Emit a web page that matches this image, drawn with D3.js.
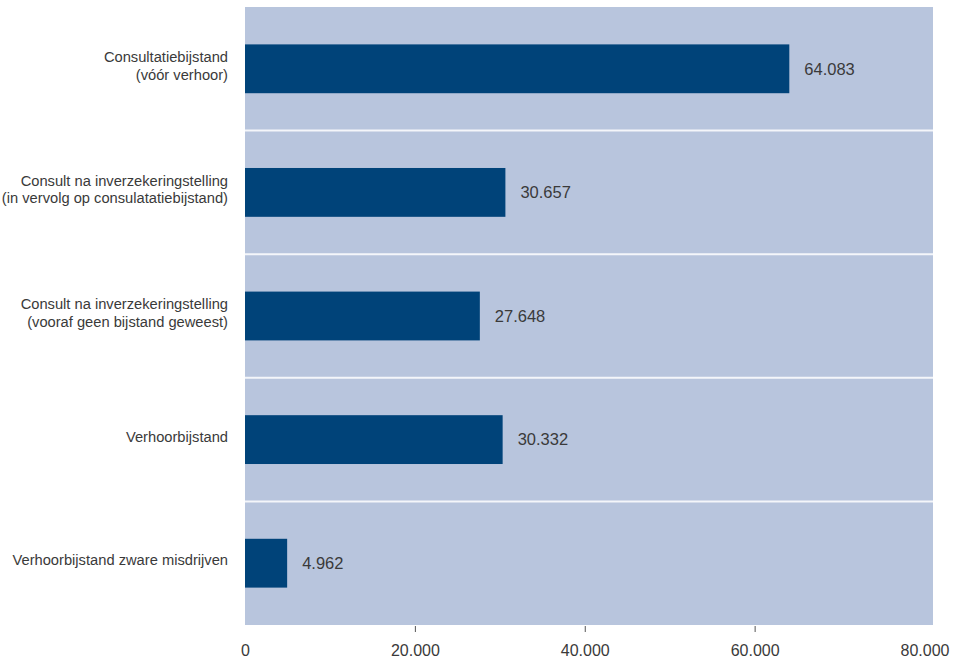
<!DOCTYPE html>
<html>
<head>
<meta charset="utf-8">
<script src="https://cdn.jsdelivr.net/npm/d3@7"></script>
<style>
  body { margin: 0; background: #ffffff; }
  svg { display: block; }
</style>
</head>
<body>
<svg id="chart" width="954" height="663"></svg>
<script>
const categories = [
  ["Consultatiebijstand", "(vóór verhoor)"],
  ["Consult na inverzekeringstelling", "(in vervolg op consulatatiebijstand)"],
  ["Consult na inverzekeringstelling", "(vooraf geen bijstand geweest)"],
  ["Verhoorbijstand"],
  ["Verhoorbijstand zware misdrijven"]
];
const values = [64083, 30657, 27648, 30332, 4962];
const valueLabels = ["64.083", "30.657", "27.648", "30.332", "4.962"];
const tickValues = [0, 20000, 40000, 60000, 80000];
const tickLabels = ["0", "20.000", "40.000", "60.000", "80.000"];

const svg = d3.select("#chart");
const margin = { left: 245, right: 21, top: 7, bottom: 38 };
const W = 954, H = 663;
const innerW = W - margin.left - margin.right;
const innerH = H - margin.top - margin.bottom;

const x = d3.scaleLinear().domain([0, 81000]).range([0, innerW]);
const idx = d3.range(categories.length);
const y = d3.scaleBand().domain(idx).range([0, innerH]).paddingInner(0).paddingOuter(0);

const g = svg.append("g").attr("transform", `translate(${margin.left},${margin.top})`);

// background
g.append("rect").attr("x", 0).attr("y", 0).attr("width", innerW).attr("height", innerH)
  .attr("fill", "#b8c5dd");

// separators
g.selectAll("line.sep").data(idx.slice(1)).join("line")
  .attr("class", "sep")
  .attr("x1", 0).attr("x2", innerW)
  .attr("y1", d => y(d)).attr("y2", d => y(d))
  .attr("stroke", "#f4f6fa").attr("stroke-width", 2);

const barH = y.bandwidth() * 0.395;
g.selectAll("rect.bar").data(idx).join("rect")
  .attr("class", "bar")
  .attr("x", 0)
  .attr("y", d => y(d) + y.bandwidth() / 2 - barH / 2)
  .attr("width", d => x(values[d]))
  .attr("height", barH)
  .attr("fill", "#004379");

// value labels
g.selectAll("text.val").data(idx).join("text")
  .attr("class", "val")
  .attr("x", d => x(values[d]) + 15)
  .attr("y", d => y(d) + y.bandwidth() / 2)
  .attr("dy", "0.35em")
  .attr("font-family", "'Liberation Sans', Arial, sans-serif")
  .attr("font-size", "16.5px")
  .attr("fill", "#3a3a3a")
  .text(d => valueLabels[d]);

// category labels
const lab = g.selectAll("text.cat").data(idx).join("text")
  .attr("class", "cat")
  .attr("text-anchor", "end")
  .attr("font-family", "'Liberation Sans', Arial, sans-serif")
  .attr("font-size", "14.7px")
  .attr("fill", "#3a3a3a");
lab.each(function(d) {
  const lines = categories[d];
  const n = lines.length;
  const lh = 17.5;
  const cy = y(d) + y.bandwidth() / 2 - 3;
  d3.select(this).selectAll("tspan").data(lines).join("tspan")
    .attr("x", -17)
    .attr("y", (t, i) => cy + (i - (n - 1) / 2) * lh)
    .attr("dy", "0.35em")
    .text(t => t);
});

// x axis
const axis = d3.axisBottom(x).tickValues(tickValues)
  .tickFormat((d, i) => tickLabels[i]).tickSize(6).tickPadding(13);
const ax = g.append("g").attr("transform", `translate(0,${innerH + 1})`).call(axis);
ax.select(".domain").remove();
ax.selectAll(".tick line").attr("stroke", "#555")
  .attr("opacity", d => (d === 0 || d === 80000) ? 0 : 1);
ax.selectAll(".tick text")
  .attr("font-family", "'Liberation Sans', Arial, sans-serif")
  .attr("font-size", "16px")
  .attr("fill", "#3a3a3a");
</script>
</body>
</html>
